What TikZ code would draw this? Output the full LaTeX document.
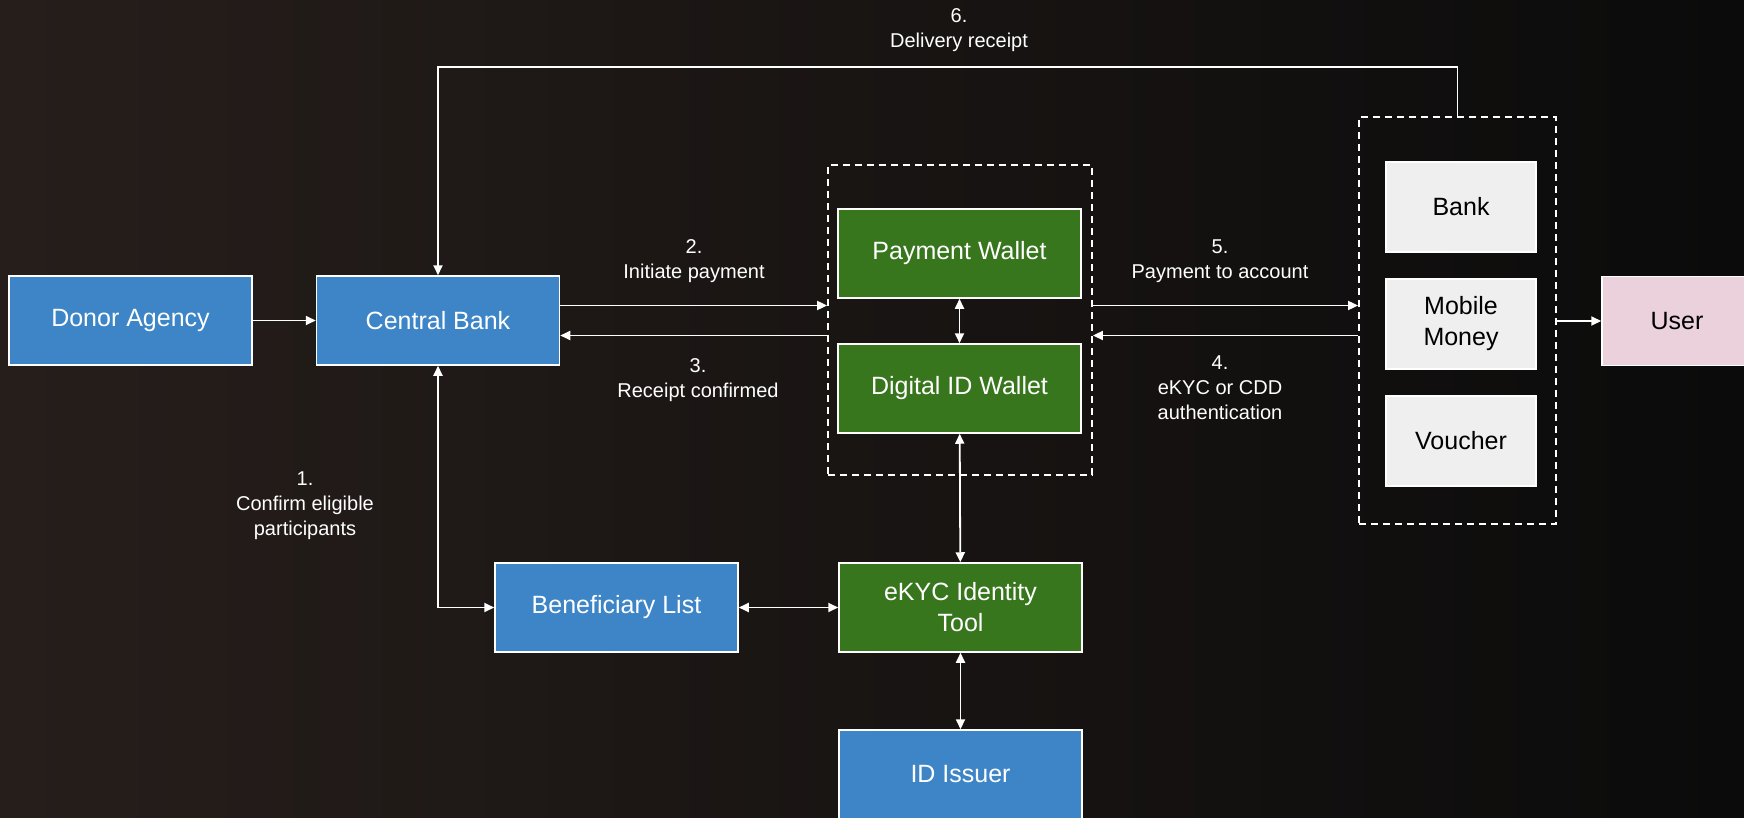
\documentclass[tikz,border=0pt]{standalone}
\usepackage{fontspec}
\setmainfont{Liberation Sans}
\usepackage{xcolor}
\usetikzlibrary{arrows.meta}

\definecolor{idblue}{RGB}{61,133,198}
\definecolor{idgreen}{RGB}{56,118,29}
\definecolor{idgrey}{RGB}{239,239,239}
\definecolor{idpink}{RGB}{234,209,220}
\definecolor{bgleft}{RGB}{38,30,27}
\definecolor{bgright}{RGB}{11,11,11}

\begin{document}
\begin{tikzpicture}[x=1pt,y=1pt,yscale=-1,xscale=1,
  box/.style={draw=white, line width=1.5pt, minimum width=243pt, minimum height=89pt,
    inner sep=2pt, align=center, font=\fontsize{25}{31}\selectfont},
  bluenode/.style={box, fill=idblue, text=white},
  greennode/.style={box, fill=idgreen, text=white},
  greynode/.style={box, fill=idgrey, text=black, minimum width=150pt, minimum height=90pt},
  pinknode/.style={box, fill=idpink, text=black, minimum width=150pt},
  group/.style={draw=white, line width=1.8pt, dash pattern=on 7pt off 5pt, inner sep=0pt},
  steplabel/.style={text=white, align=center, font=\fontsize{20}{25}\selectfont},
  arr/.style={draw=white, line width=1.8pt, -{Triangle[length=10pt,width=9pt]}},
  arrboth/.style={draw=white, line width=1.8pt, {Triangle[length=10pt,width=9pt]}-{Triangle[length=10pt,width=9pt]}}]
\useasboundingbox (0,0) rectangle (1744,818);
\shade[left color=bgleft, right color=bgright] (0,0) rectangle (1744,818);
\clip (0,0) rectangle (1744,818);

% groups
\node[group, minimum width=264pt, minimum height=310pt] (walletgrp) at (960,320) {};
\node[group, minimum width=197pt, minimum height=407pt] (provgrp) at (1457.5,320.5) {};

% boxes
\node[bluenode] (donor) at (130.5,320.5) {Donor Agency};
\node[bluenode] (cbank) at (438,320.5) {Central Bank};
\node[greennode] (paywallet) at (959.5,253.5) {Payment Wallet};
\node[greennode] (idwallet) at (959.5,388.5) {Digital ID Wallet};
\node[bluenode] (benef) at (616.5,607.5) {Beneficiary List};
\node[greennode] (ekyc) at (960.5,607.5) {eKYC Identity\\Tool};
\node[bluenode] (issuer) at (960.5,774.5) {ID Issuer};
\node[greynode] (bank) at (1461,207) {Bank};
\node[greynode] (mobile) at (1461,324) {Mobile\\Money};
\node[greynode] (voucher) at (1461,441) {Voucher};
\node[pinknode] (user) at (1677,321) {User};

% rows for the parallel arrows
\coordinate (ytop) at (0,67);
\coordinate (yfwd) at (0,305.5);
\coordinate (yback) at (0,335.5);

% connectors
\draw[arr] (donor) -- (cbank);
\draw[arr] (cbank.east |- yfwd) -- (walletgrp.west |- yfwd);
\draw[arr] (walletgrp.west |- yback) -- (cbank.east |- yback);
\draw[arr] (walletgrp.east |- yfwd) -- (provgrp.west |- yfwd);
\draw[arr] (provgrp.west |- yback) -- (walletgrp.east |- yback);
\draw[arrboth] (paywallet) -- (idwallet);
\draw[arrboth] (idwallet) -- (ekyc);
\draw[arrboth] (ekyc) -- (issuer);
\draw[arrboth] (benef) -- (ekyc);
\draw[arrboth] (cbank.south) |- (benef.west);
\draw[arr] (provgrp.east |- user) -- (user);
\draw[arr] (provgrp.north) |- (ytop -| cbank) -- (cbank.north);

% step labels
\node[steplabel] (lbl6) at (959,30) {6.\\Delivery receipt};
\node[steplabel] (lbl2) at (694,261) {2.\\Initiate payment};
\node[steplabel] (lbl3) at (698,380) {3.\\Receipt confirmed};
\node[steplabel] (lbl5) at (1220,261) {5.\\Payment to account};
\node[steplabel] (lbl4) at (1220,388) {4.\\eKYC or CDD\\authentication};
\node[steplabel] (lbl1) at (305,506) {1.\\Confirm eligible\\participants};
\end{tikzpicture}
\end{document}
